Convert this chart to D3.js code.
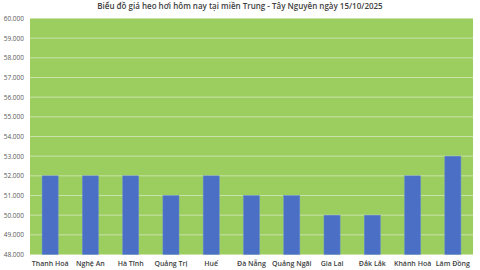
<html>
<head>
<meta charset="utf-8">
<script src="https://cdn.jsdelivr.net/npm/d3@7"></script>
</head>
<body style='margin: 0;padding: 0;background: #fff'>
<div id="chart"></div>
<script>
  var title = 'Biểu đồ giá heo hơi hôm nay tại miền Trung - Tây Nguyên ngày 15/10/2025'
  var provinces = ['Thanh Hoá', 'Nghệ An', 'Hà Tĩnh', 'Quảng Trị', 'Huế', 'Đà Nẵng', 'Quảng Ngãi', 'Gia Lai', 'Đắk Lắk', 'Khánh Hoà', 'Lâm Đồng']
  var prices = [52000, 52000, 52000, 51000, 52000, 51000, 51000, 50000, 50000, 52000, 53000]
  var yTicks = [48000, 49000, 50000, 51000, 52000, 53000, 54000, 55000, 56000, 57000, 58000, 59000, 60000]

  var W = 480, H = 270
  var plotLeft = 30, plotRight = 473, plotTop = 18.5, plotBottom = 254.5
  var font = "'Open Sans', 'Liberation Sans', sans-serif"

  var svg = d3.select('#chart').append('svg').attr('width', W).attr('height', H)

  var x = d3.scaleBand().domain(provinces).range([plotLeft, plotRight]).paddingInner(0.6).paddingOuter(0.3)
  var y = d3.scaleLinear().domain([48000, 60000]).range([plotBottom, plotTop])

  svg.append('rect')
    .attr('x', plotLeft).attr('y', plotTop)
    .attr('width', plotRight - plotLeft).attr('height', plotBottom - plotTop)
    .style('fill', '#9bcd5f')

  // grid
  svg.selectAll('.grid').data(yTicks).enter().append('line')
    .attr('class', 'grid')
    .attr('x1', plotLeft).attr('x2', plotRight)
    .attr('y1', d => y(d)).attr('y2', d => y(d))
    .style('stroke', '#c9e3a9').style('stroke-width', '1px')

  var fmt = d => d3.format(',.0f')(d).replace(/,/g, '.')

  var yAxis = svg.append('g').attr('transform', 'translate(' + (plotLeft - 3) + ',0)')
    .call(d3.axisLeft(y).tickValues(yTicks).tickFormat(fmt).tickSize(0))
  yAxis.select('.domain').remove()
  yAxis.selectAll('text').style('fill', '#595959').style('font-family', font).style('font-size', '6.5px')

  svg.selectAll('.bar').data(prices).enter().append('rect')
    .attr('class', 'bar')
    .attr('x', (d, i) => x(provinces[i]))
    .attr('y', d => y(d))
    .attr('width', x.bandwidth())
    .attr('height', d => plotBottom - y(d))
    .style('fill', '#4a6fc4')
    .style('stroke', '#6b8fd6').style('stroke-width', '0.5px')

  var xAxis = svg.append('g').attr('transform', 'translate(0,' + (plotBottom + 4) + ')')
    .call(d3.axisBottom(x).tickSize(0))
  xAxis.select('.domain').remove()
  xAxis.selectAll('text').style('fill', '#404040').style('font-family', font)
    .style('font-size', '7px').style('font-weight', 600)

  svg.append('text')
    .text(title)
    .attr('x', 240).attr('y', 9)
    .attr('text-anchor', 'middle')
    .style('fill', '#404040').style('font-family', font)
    .style('font-size', '8px').style('font-weight', 600)
</script>
</body>
</html>
